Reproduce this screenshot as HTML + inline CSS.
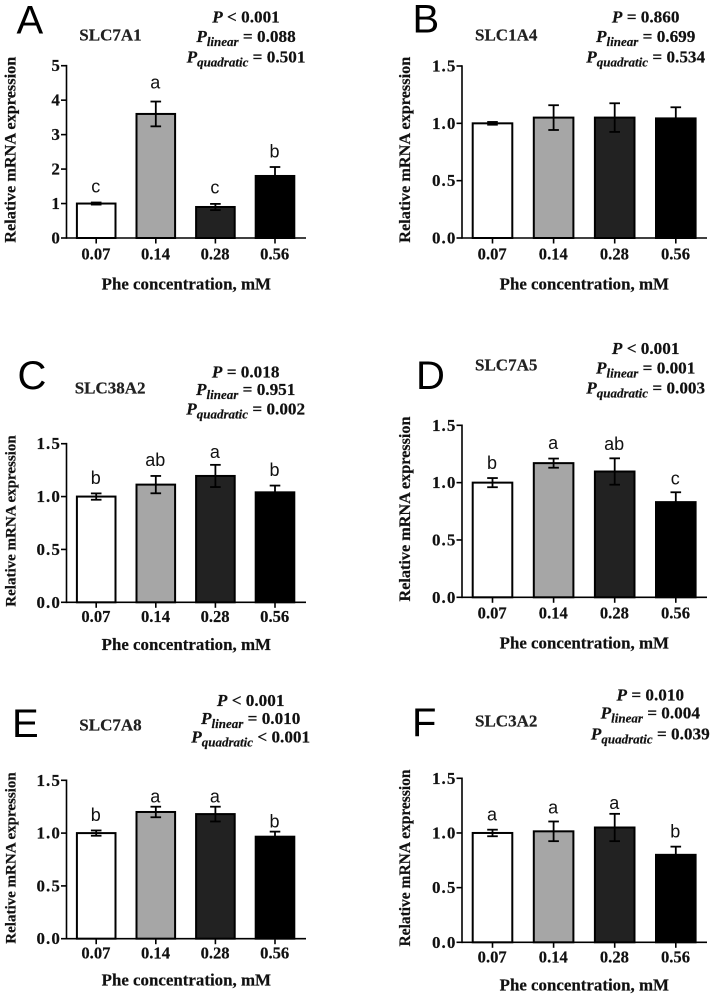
<!DOCTYPE html>
<html>
<head>
<meta charset="utf-8">
<title>Relative mRNA expression panels</title>
<style>
html,body{margin:0;padding:0;background:#fff;}
svg{display:block;filter:blur(0.3px);}
text{font-family:"Liberation Serif",serif;font-weight:bold;fill:#111;stroke:#111;stroke-width:0.2px;}
.letter{font-family:"Liberation Sans",sans-serif;font-weight:normal;font-size:40px;fill:#000;stroke:none;}
.gene{font-size:17px;fill:#222;}
.p{font-size:17.2px;}
.p .i{font-style:italic;}
.p .s{font-style:italic;font-size:13px;}
.xt{font-size:16.6px;text-anchor:middle;}
.yt{font-size:17px;text-anchor:end;letter-spacing:1.1px;}
.xtitle{font-size:16.9px;text-anchor:middle;}
.ytitle{text-anchor:middle;}
.sig{font-family:"Liberation Sans",sans-serif;font-weight:normal;font-size:18px;text-anchor:middle;fill:#111;stroke:none;}
</style>
</head>
<body>
<svg id="figure" width="715" height="997" viewBox="0 0 715 997" xmlns="http://www.w3.org/2000/svg">
  <g id="panel-a">
    <text class="letter" x="16.5" y="33.5">A</text>
    <text class="gene" x="79.3" y="40.7">SLC7A1</text>
    <text class="p" x="246" y="22.7" text-anchor="middle"><tspan class="i">P</tspan> &lt; 0.001</text>
    <text class="p" x="246" y="42" text-anchor="middle"><tspan class="i">P</tspan><tspan class="s" dy="4">linear</tspan><tspan dy="-4"> = 0.088</tspan></text>
    <text class="p" x="246" y="62.7" text-anchor="middle"><tspan class="i">P</tspan><tspan class="s" dy="4">quadratic</tspan><tspan dy="-4"> = 0.501</tspan></text>
    <text class="ytitle" font-size="16.3" transform="translate(15.5,149.7) rotate(-90)">Relative mRNA expression</text>
    <text class="xtitle" x="186.3" y="289.3">Phe concentration, mM</text>
  </g>
  <g id="panel-b">
    <text class="letter" x="412.5" y="32.5">B</text>
    <text class="gene" x="475" y="40.7">SLC1A4</text>
    <text class="p" x="645.7" y="22.7" text-anchor="middle"><tspan class="i">P</tspan> = 0.860</text>
    <text class="p" x="645.7" y="42" text-anchor="middle"><tspan class="i">P</tspan><tspan class="s" dy="4">linear</tspan><tspan dy="-4"> = 0.699</tspan></text>
    <text class="p" x="645.7" y="62.7" text-anchor="middle"><tspan class="i">P</tspan><tspan class="s" dy="4">quadratic</tspan><tspan dy="-4"> = 0.534</tspan></text>
    <text class="ytitle" font-size="16.3" transform="translate(409.8,149.7) rotate(-90)">Relative mRNA expression</text>
    <text class="xtitle" x="584.3" y="289.3">Phe concentration, mM</text>
  </g>
  <g id="panel-c">
    <text class="letter" x="17.5" y="389">C</text>
    <text class="gene" x="74.7" y="393.3">SLC38A2</text>
    <text class="p" x="245.7" y="377.3" text-anchor="middle"><tspan class="i">P</tspan> = 0.018</text>
    <text class="p" x="245.7" y="395" text-anchor="middle"><tspan class="i">P</tspan><tspan class="s" dy="4">linear</tspan><tspan dy="-4"> = 0.951</tspan></text>
    <text class="p" x="245.7" y="414.7" text-anchor="middle"><tspan class="i">P</tspan><tspan class="s" dy="4">quadratic</tspan><tspan dy="-4"> = 0.002</tspan></text>
    <text class="ytitle" font-size="15" transform="translate(15.5,521) rotate(-90)">Relative mRNA expression</text>
    <text class="xtitle" x="186.3" y="650">Phe concentration, mM</text>
  </g>
  <g id="panel-d">
    <text class="letter" x="416" y="389">D</text>
    <text class="gene" x="475" y="370.7">SLC7A5</text>
    <text class="p" x="645.7" y="354" text-anchor="middle"><tspan class="i">P</tspan> &lt; 0.001</text>
    <text class="p" x="645.7" y="373.3" text-anchor="middle"><tspan class="i">P</tspan><tspan class="s" dy="4">linear</tspan><tspan dy="-4"> = 0.001</tspan></text>
    <text class="p" x="645.7" y="393.3" text-anchor="middle"><tspan class="i">P</tspan><tspan class="s" dy="4">quadratic</tspan><tspan dy="-4"> = 0.003</tspan></text>
    <text class="ytitle" font-size="16.2" transform="translate(409.8,509) rotate(-90)">Relative mRNA expression</text>
    <text class="xtitle" x="584.3" y="648.3">Phe concentration, mM</text>
  </g>
  <g id="panel-e">
    <text class="letter" x="12" y="737">E</text>
    <text class="gene" x="79.3" y="730.7">SLC7A8</text>
    <text class="p" x="250.7" y="706" text-anchor="middle"><tspan class="i">P</tspan> &lt; 0.001</text>
    <text class="p" x="250.7" y="724" text-anchor="middle"><tspan class="i">P</tspan><tspan class="s" dy="4">linear</tspan><tspan dy="-4"> = 0.010</tspan></text>
    <text class="p" x="250.7" y="742.7" text-anchor="middle"><tspan class="i">P</tspan><tspan class="s" dy="4">quadratic</tspan><tspan dy="-4"> &lt; 0.001</tspan></text>
    <text class="ytitle" font-size="15" transform="translate(15.5,858) rotate(-90)">Relative mRNA expression</text>
    <text class="xtitle" x="186.3" y="985.7">Phe concentration, mM</text>
  </g>
  <g id="panel-f">
    <text class="letter" x="412" y="736">F</text>
    <text class="gene" x="475" y="726.7">SLC3A2</text>
    <text class="p" x="650.3" y="700.7" text-anchor="middle"><tspan class="i">P</tspan> = 0.010</text>
    <text class="p" x="650.3" y="718.7" text-anchor="middle"><tspan class="i">P</tspan><tspan class="s" dy="4">linear</tspan><tspan dy="-4"> = 0.004</tspan></text>
    <text class="p" x="650.3" y="739.3" text-anchor="middle"><tspan class="i">P</tspan><tspan class="s" dy="4">quadratic</tspan><tspan dy="-4"> = 0.039</tspan></text>
    <text class="ytitle" font-size="15.5" transform="translate(409.8,858) rotate(-90)">Relative mRNA expression</text>
    <text class="xtitle" x="584.3" y="990.7">Phe concentration, mM</text>
  </g>
</svg>
<script>
// ---- chart data ----
const categories = ["0.07", "0.14", "0.28", "0.56"];

const yTicksA = [0, 1, 2, 3, 4, 5];
const yTickLabelsA = ["0", "1", "2", "3", "4", "5"];
const yTicksStd = [0, 0.5, 1.0, 1.5];
const yTickLabelsStd = ["0.0", "0.5", "1.0", "1.5"];

const valuesA = [1.0, 3.6, 0.9, 1.8];
const errorsA = [0.03, 0.36, 0.09, 0.26];
const lettersA = ["c", "a", "c", "b"];

const valuesB = [1.0, 1.05, 1.05, 1.043];
const errorsB = [0.012, 0.108, 0.125, 0.097];
const lettersB = ["", "", "", ""];

const valuesC = [1.0, 1.113, 1.195, 1.04];
const errorsC = [0.03, 0.082, 0.105, 0.064];
const lettersC = ["b", "ab", "a", "b"];

const valuesD = [1.0, 1.17, 1.097, 0.83];
const errorsD = [0.04, 0.04, 0.115, 0.086];
const lettersD = ["b", "a", "ab", "c"];

const valuesE = [1.0, 1.2, 1.18, 0.966];
const errorsE = [0.025, 0.05, 0.07, 0.048];
const lettersE = ["b", "a", "a", "b"];

const valuesF = [1.0, 1.015, 1.05, 0.8];
const errorsF = [0.03, 0.09, 0.125, 0.075];
const lettersF = ["a", "a", "a", "b"];

// ---- appearance ----
const barFills = ["#ffffff", "#a6a6a6", "#222222", "#000000"];
const SVGNS = "http://www.w3.org/2000/svg";

function mk(tag, attrs, parent, txt) {
  const el = document.createElementNS(SVGNS, tag);
  for (const k in attrs) el.setAttribute(k, attrs[k]);
  if (txt !== undefined) el.textContent = txt;
  parent.appendChild(el);
  return el;
}

function drawChart(panelId, layout, values, errors, letters, ticks, tickLabels) {
  const root = document.getElementById(panelId);
  const yMax = ticks[ticks.length - 1];
  const yScale = v => layout.bottom - (v / yMax) * (layout.bottom - layout.top);
  const xScale = i => layout.first + i * layout.step;

  categories.forEach((cat, i) => {
    const cx = xScale(i);
    const yTop = yScale(values[i]);
    const bar = mk("rect", {
      x: cx - layout.barW / 2, y: yTop,
      width: layout.barW, height: Math.max(0, layout.bottom - yTop),
      fill: barFills[i], stroke: "#000", "stroke-width": 2
    }, root);
    
    

    const hi = yScale(values[i] + errors[i]);
    const lo = yScale(values[i] - errors[i]);
    const stem = mk("line", { x1: cx, x2: cx, y1: hi, y2: lo, stroke: "#000", "stroke-width": 1.8 }, root);
    
    
    const capHi = mk("line", { x1: cx - 5.3, x2: cx + 5.3, y1: hi, y2: hi, stroke: "#000", "stroke-width": 1.8 }, root);
    
    
    const capLo = mk("line", { x1: cx - 5.3, x2: cx + 5.3, y1: lo, y2: lo, stroke: "#000", "stroke-width": 1.8 }, root);
    
    

    if (letters[i]) {
      const sig = mk("text", { class: "sig", x: cx - 0.5, y: hi - layout.gaps[i] }, root, letters[i]);
      
      
    }

    const tick = mk("line", { x1: cx, x2: cx, y1: layout.bottom, y2: layout.bottom + 5.5, stroke: "#000", "stroke-width": 1.6 }, root);
    
    
    const label = mk("text", { class: "xt", x: cx - 0.3, y: layout.bottom + layout.tickDrop }, root, cat);
    
    
  });

  ticks.forEach((t, i) => {
    const y = yScale(t);
    const tick = mk("line", { x1: layout.axisX - 5.5, x2: layout.axisX, y1: y, y2: y, stroke: "#000", "stroke-width": 1.6 }, root);
    
    
    const label = mk("text", { class: "yt", x: layout.axisX - 5.5, y: y + 5.5 }, root, tickLabels[i]);
    
    
  });

  const yAxis = mk("line", { x1: layout.axisX, x2: layout.axisX, y1: layout.top - 0.8, y2: layout.bottom + 0.8, stroke: "#000", "stroke-width": 1.6 }, root);
  
  
  const xAxis = mk("line", { x1: layout.axisX, x2: layout.axisEnd, y1: layout.bottom, y2: layout.bottom, stroke: "#000", "stroke-width": 1.6 }, root);
  
  
}

const leftCol = { axisX: 66.5, axisEnd: 306, first: 96.2, step: 59.6, barW: 38.6 };
const rightCol = { axisX: 462, axisEnd: 707, first: 492.5, step: 61.1, barW: 39.6 };

drawChart("panel-a", Object.assign({ top: 65.7, bottom: 238, tickDrop: 21.3, gaps: [10, 13, 10.6, 9.3] }, leftCol), valuesA, errorsA, lettersA, yTicksA, yTickLabelsA);
drawChart("panel-b", Object.assign({ top: 66, bottom: 238, tickDrop: 21.3, gaps: [9, 9, 9, 9] }, rightCol), valuesB, errorsB, lettersB, yTicksStd, yTickLabelsStd);
drawChart("panel-c", Object.assign({ top: 443.7, bottom: 602.3, tickDrop: 19.7, gaps: [9.3, 10, 7, 9.7] }, leftCol), valuesC, errorsC, lettersC, yTicksStd, yTickLabelsStd);
drawChart("panel-d", Object.assign({ top: 425.3, bottom: 597.3, tickDrop: 21.4, gaps: [9, 9.7, 8.3, 8] }, rightCol), valuesD, errorsD, lettersD, yTicksStd, yTickLabelsStd);
drawChart("panel-e", Object.assign({ top: 780.3, bottom: 938.7, tickDrop: 19.6, gaps: [9.7, 4.3, 4, 4] }, leftCol), valuesE, errorsE, lettersE, yTicksStd, yTickLabelsStd);
drawChart("panel-f", Object.assign({ top: 778.3, bottom: 942.3, tickDrop: 20.4, gaps: [9, 8, 4.7, 9] }, rightCol), valuesF, errorsF, lettersF, yTicksStd, yTickLabelsStd);
</script>
</body>
</html>
